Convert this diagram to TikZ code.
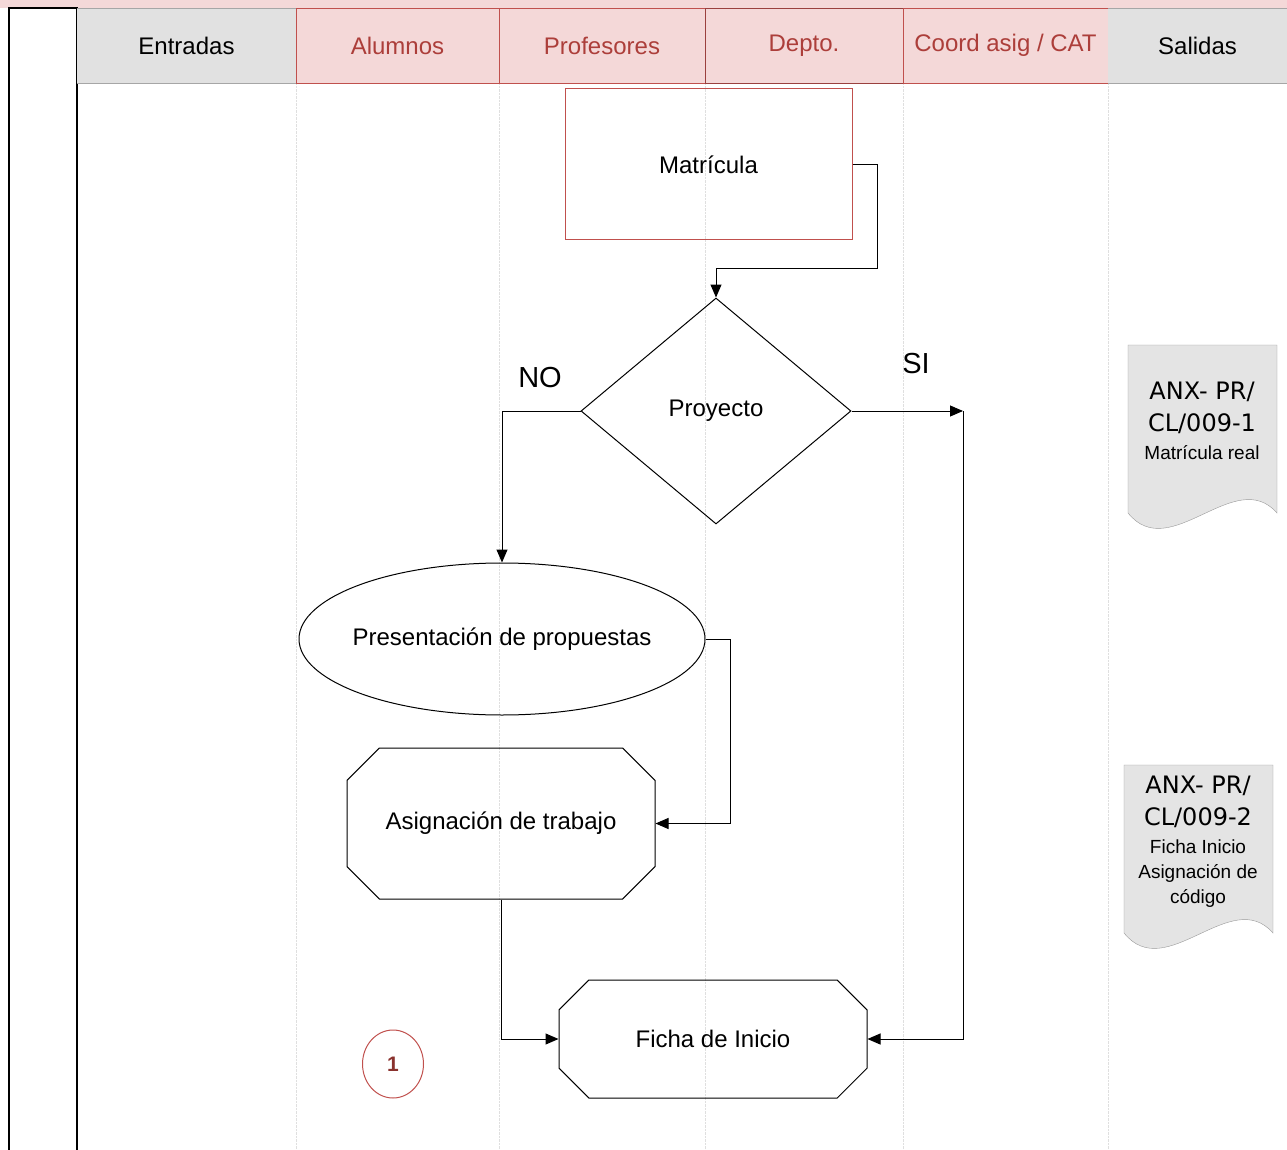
\documentclass[tikz,border=0pt]{standalone}
\usepackage{fontspec}
\setmainfont{Liberation Sans}
\newfontfamily\docfont{DejaVu Sans}
\usetikzlibrary{shapes.geometric,shapes.misc,arrows.meta}
\definecolor{lanepink}{RGB}{244,216,216}
\definecolor{lanered}{RGB}{192,80,77}
\definecolor{lanetext}{RGB}{172,62,58}
\definecolor{lanegray}{RGB}{225,225,225}
\definecolor{docgray}{RGB}{228,228,228}
\begin{document}
\begin{tikzpicture}[x=1pt,y=-1pt,
  every node/.style={font=\fontsize{24}{28}\selectfont,inner sep=0pt},
  headred/.style={draw=lanered,fill=lanepink,text=lanetext,minimum height=75pt},
  headgray/.style={fill=lanegray,minimum height=75pt},
  lane/.style={gray!25,densely dotted},
  flow/.style={draw,line width=1pt},
  octo/.style={flow,chamfered rectangle,chamfered rectangle xsep=21pt,chamfered rectangle ysep=21pt},
  arr/.style={line width=1pt,-{Triangle[length=13pt,width=11pt]}},
  small/.style={font=\fontsize{19}{22}\selectfont},
  doc/.style={font=\fontsize{24}{28}\docfont}]
\useasboundingbox (0,0) rectangle (1287,1150);
% top band and left column
\fill[lanepink] (0,0) rectangle (1287,8);
\draw[line width=2pt] (9,8) rectangle (77,1152);
% lanes
\foreach \x in {296,499,705,903,1108}
  \draw[lane] (\x,83) -- (\x,1150);
% header
\node[headgray,minimum width=219pt] (entradas) at (186.5,45.5) {Entradas};
\draw[gray!70] (77,8) -- (296,8) (77,83) -- (296,83);
\node[headred,minimum width=203pt] (alumnos) at (397.5,45.5) {Alumnos};
\node[headred,minimum width=206pt] (profes) at (602,45.5) {Profesores};
\node[headred,draw=lanered!80!black,minimum width=198pt] (depto) at (804,45.5) {Depto.};
\node[headred,minimum width=205pt] (coord) at (1005.5,45.5) {Coord asig / CAT};
\node[headgray,minimum width=179pt] (salidas) at (1197.5,45.5) {Salidas};
\draw[gray!70] (1108,8) -- (1287,8) (1108,83) -- (1287,83);

% flow
\node[draw=lanered,line width=1pt,minimum width=287pt,minimum height=151pt] (matricula) at (708.5,164.5) {Matrícula};
\node[flow,diamond,minimum width=270pt,minimum height=226pt] (proyecto) at (716,411) {Proyecto};
\node[flow,ellipse,inner xsep=-60pt,minimum width=406pt,minimum height=152pt] (propuestas) at (502,639) {Presentación de propuestas};
\node[octo,minimum width=308pt,minimum height=151pt] (asignacion) at (501,823.5) {Asignación de trabajo};
\node[octo,minimum width=308pt,minimum height=118pt] (ficha) at (713,1039) {Ficha de Inicio};
\node[font=\fontsize{29}{32}\selectfont] (no) at (540,378) {NO};
\node[font=\fontsize{29}{32}\selectfont] (si) at (916,364) {SI};
\node[draw=lanered,line width=1pt,ellipse,minimum width=61pt,minimum height=68pt,
  text=lanetext!80!black,font=\bfseries\fontsize{21}{24}\selectfont] (uno) at (393,1064) {1};
\coordinate (sipunto) at (963,411);

\draw[arr] (matricula.east) -- ++(25,0) |- ([yshift=29pt]proyecto.north) -- (proyecto.north);
\draw[arr] (proyecto.west) -| (propuestas.north);
\draw[arr] (proyecto.east) -- (sipunto);
\draw[arr] (sipunto) |- (ficha.east);
\draw[arr] (propuestas.east) -- ++(25,0) |- (asignacion.east);
\draw[arr] (asignacion.south) |- (ficha.west);

% salidas
\begin{scope}[shift={(1128,345)}]
\filldraw[fill=docgray,draw=gray!80] (0,0) -- (149,0) -- (149,168)
  .. controls (107,120) and (42,220) .. (0,168) -- cycle;
\end{scope}
\begin{scope}[shift={(1124,765)}]
\filldraw[fill=docgray,draw=gray!80] (0,0) -- (149,0) -- (149,168)
  .. controls (107,120) and (42,220) .. (0,168) -- cycle;
\end{scope}
\node[doc] (anxa) at (1202,392) {ANX- PR/};
\node[doc] (cla) at (1202,424) {CL/009-1};
\node[small] (reala) at (1202,453) {Matrícula real};
\node[doc] (anxb) at (1198,786) {ANX- PR/};
\node[doc] (clb) at (1198,818) {CL/009-2};
\node[small] (fichab) at (1198,847) {Ficha Inicio};
\node[small] (asigb) at (1198,873) {Asignación de};
\node[small] (codb) at (1198,898) {código};
\end{tikzpicture}
\end{document}
